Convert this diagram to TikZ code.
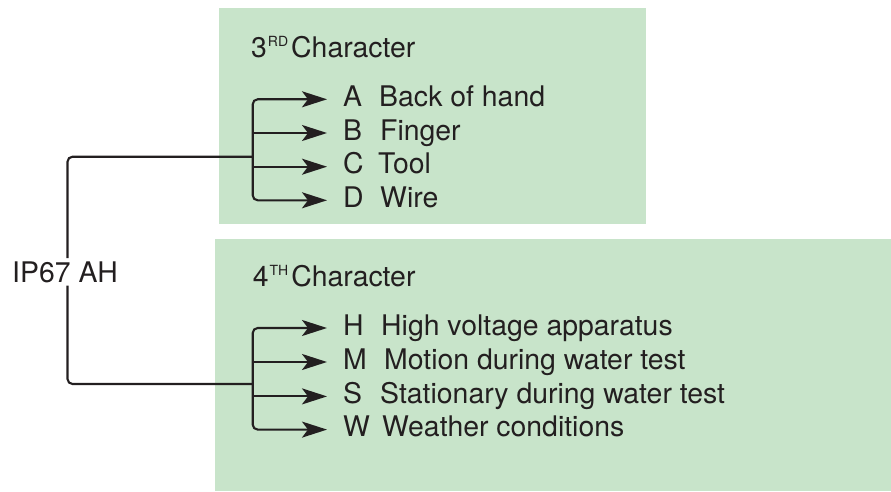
\documentclass[tikz,border=0pt]{standalone}
\usepackage{fontspec}
\setmainfont{TeX Gyre Heros}
\usetikzlibrary{arrows.meta,calc}
\definecolor{boxgreen}{HTML}{C8E4CA}
\definecolor{ink}{HTML}{231F20}
\tikzset{
  greenbox/.style={fill=boxgreen, draw=none, inner sep=0pt, anchor=north west},
  txt/.style={inner sep=0pt, anchor=base west, text=ink, font=\fontsize{28.4}{34}\selectfont},
  wire/.style={draw=ink, line width=2.1pt, rounded corners=5pt},
  arr/.style={wire, -{Stealth[length=25pt,width=16pt,inset=6pt]}},
  darr/.style={wire, {Stealth[length=25pt,width=16pt,inset=6pt]}-{Stealth[length=25pt,width=16pt,inset=6pt]}},
}
\newcommand{\supx}[1]{\hspace{1pt}\raisebox{11pt}{\fontsize{14}{14}\selectfont #1}\hspace{3pt}}
\begin{document}
\begin{tikzpicture}[x=1pt,y=-1pt]
\useasboundingbox (0,0) rectangle (891,492);
% boxes
\node[greenbox, minimum width=427.7pt, minimum height=215.3pt] (box3) at (218.3,8) {};
\node[greenbox, minimum width=676pt, minimum height=252pt] (box4) at (215,239) {};
% titles
\node[txt] (t3) at (251,58) {3\supx{RD}Character};
\node[txt] (t4) at (252.7,286) {4\supx{TH}Character};
% root
\node[txt, inner ysep=3pt] (ip) at (12,282) {IP67 AH};
% top items
\node[txt] (lA) at (343,106.3) {A};
\node[txt] (lB) at (343,140) {B};
\node[txt] (lC) at (343,173.7) {C};
\node[txt] (lD) at (343,207.3) {D};
\node[txt] (dA) at (379,106.3) {Back of hand};
\node[txt] (dB) at (380,140) {Finger};
\node[txt] (dC) at (378,173.7) {Tool};
\node[txt] (dD) at (380,207.3) {Wire};
% bottom items
\node[txt] (lH) at (343,335) {H};
\node[txt] (lM) at (343,369) {M};
\node[txt] (lS) at (343,403.4) {S};
\node[txt] (lW) at (343,436.6) {W};
\node[txt] (dH) at (381,335) {High voltage apparatus};
\node[txt] (dM) at (384,369) {Motion during water test};
\node[txt] (dS) at (380,403.4) {Stationary during water test};
\node[txt] (dW) at (382,436.6) {Weather conditions};
% junctions
\coordinate (jT) at (252.7,156.7);
\coordinate (jB) at (252.7,384);
\coordinate (vx) at (67.5,0);
% tips
\coordinate (tA) at ($(lA.base west)+(-16,-7)$);
\coordinate (tB) at ($(lB.base west)+(-16,-7)$);
\coordinate (tC) at ($(lC.base west)+(-16,-7)$);
\coordinate (tD) at ($(lD.base west)+(-16,-7)$);
\coordinate (tH) at ($(lH.base west)+(-16,-7)$);
\coordinate (tM) at ($(lM.base west)+(-16,-7)$);
\coordinate (tS) at ($(lS.base west)+(-16,-7)$);
\coordinate (tW) at ($(lW.base west)+(-16,-7)$);
% top branch
\draw[darr] (tA) -- (tA -| jT) -- (tD -| jT) -- (tD);
\draw[arr] (tB -| jT) -- (tB);
\draw[arr] (tC -| jT) -- (tC);
% bottom branch
\draw[darr] (tH) -- (tH -| jB) -- (tW -| jB) -- (tW);
\draw[arr] (tM -| jB) -- (tM);
\draw[arr] (tS -| jB) -- (tS);
% trunk
\draw[wire] (jT) -- (jT -| vx) -- (ip.north -| vx);
\draw[wire] (ip.south -| vx) -- (jB -| vx) -- (jB);
\end{tikzpicture}
\end{document}
